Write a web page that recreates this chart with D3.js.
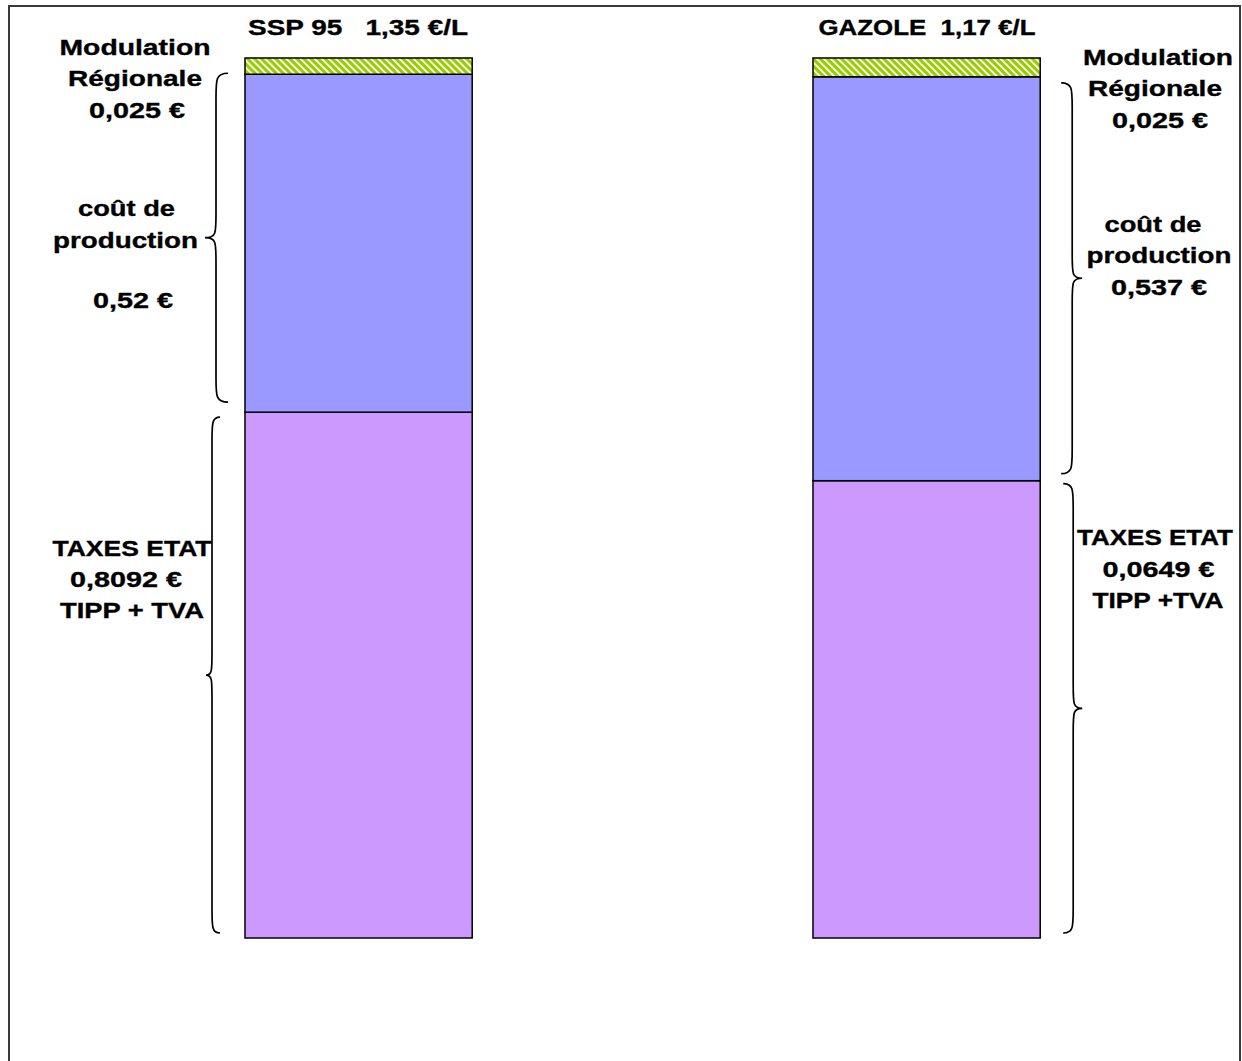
<!DOCTYPE html>
<html>
<head>
<meta charset="utf-8">
<script src="https://cdn.jsdelivr.net/npm/d3@7"></script>
<style>
  html, body { margin: 0; padding: 0; background: #fff; }
  svg { display: block; }
  text { font-family: "Liberation Sans", Arial, sans-serif; font-weight: bold; fill: #000; white-space: pre; stroke: #000; stroke-width: 0.35; }
</style>
</head>
<body>
<svg id="chart" width="1242" height="1061"></svg>
<script>
// ---- data ----
const categories = ["SSP 95", "GAZOLE"];
const titles = ["SSP 95   1,35 €/L", "GAZOLE  1,17 €/L"];
const seriesKeys = ["taxes", "production", "modulation"];
const taxes = [0.8092, 0.608];
const production = [0.52, 0.537];
const modulation = [0.025, 0.025];
const modulationLabel = [["Modulation", "Régionale", "0,025 €"], ["Modulation", "Régionale", "0,025 €"]];
const productionLabel = [["coût de", "production", "", "0,52 €"], ["coût de", "production", "0,537 €"]];
const taxesLabel = [["TAXES ETAT", "0,8092 €", "TIPP + TVA"], ["TAXES ETAT", "0,0649 €", "TIPP +TVA"]];

const rows = categories.map((c, i) => ({
  cat: c, taxes: taxes[i], production: production[i], modulation: modulation[i]
}));

// ---- layout ----
const svg = d3.select("#chart");
const x = d3.scaleBand().domain(categories).range([74.6, 1210.6]).paddingInner(0.6).paddingOuter(0.3);
const y = d3.scaleLinear().domain([0, 1]).range([938, 58]);
const stack = d3.stack().keys(seriesKeys).offset(d3.stackOffsetExpand);
const stacked = stack(rows);
const colors = { taxes: "#CC99FF", production: "#9999FF", modulation: "url(#hatch)" };

// hatch pattern
const defs = svg.append("defs");
const pat = defs.append("pattern").attr("id", "hatch").attr("patternUnits", "userSpaceOnUse")
  .attr("width", 5).attr("height", 5).attr("patternTransform", "rotate(-45)");
pat.append("rect").attr("width", 5).attr("height", 5).attr("fill", "#99CC00");
pat.append("rect").attr("x", 0).attr("y", 0).attr("width", 1.8).attr("height", 5).attr("fill", "#ffffff");

// outer frame
svg.append("rect").attr("x", 9).attr("y", 6).attr("width", 1231).attr("height", 1100)
  .attr("fill", "none").attr("stroke", "#3a3a3a").attr("stroke-width", 2);

// bars
svg.append("g").selectAll("g").data(stacked).join("g")
  .attr("fill", d => colors[d.key])
  .selectAll("rect").data(d => d).join("rect")
  .attr("x", d => x(d.data.cat))
  .attr("width", x.bandwidth())
  .attr("y", d => y(d[1]))
  .attr("height", d => y(d[0]) - y(d[1]))
  .attr("stroke", "#000").attr("stroke-width", 1.5);

// braces
function brace(x0, y0, y1, dir, spineOff, tipOff) {
  const xs = x0 + dir * spineOff, xt = x0 + dir * tipOff;
  const ym = (y0 + y1) / 2, r = 24;
  return `M${x0},${y0} C${xs},${y0} ${xs},${y0 + 6} ${xs},${y0 + r}`
    + ` L${xs},${ym - r} C${xs},${ym - 4} ${xs},${ym} ${xt},${ym}`
    + ` C${xs},${ym} ${xs},${ym + 4} ${xs},${ym + r}`
    + ` L${xs},${y1 - r} C${xs},${y1 - 6} ${xs},${y1} ${x0},${y1}`;
}
const bg = svg.append("g").attr("fill", "none").attr("stroke", "#000").attr("stroke-width", 1.7);
const b1 = x(categories[0]), b2 = x(categories[1]) + x.bandwidth();
const s1 = stacked.map(s => s[0]), s2 = stacked.map(s => s[1]);
bg.append("path").attr("d", brace(b1 - 17, y(s1[1][1]) - 1, y(s1[1][0]) - 10, -1, 12, 23));
bg.append("path").attr("d", brace(b1 - 25, y(s1[0][1]) + 5, y(s1[0][0]) - 5, -1, 8, 14));
bg.append("path").attr("d", brace(b2 + 21, y(s2[1][1]) + 6, y(s2[1][0]) - 7, 1, 11, 21));
bg.append("path").attr("d", brace(b2 + 23, y(s2[0][1]) + 3, y(s2[0][0]) - 5, 1, 10, 19));

// text labels: [cx, baseline, width] per line
function lines(group, texts, layout) {
  texts.forEach((t, i) => {
    if (!t) return;
    const L = layout[i];
    group.append("text").attr("x", L[0]).attr("y", L[1]).attr("text-anchor", "middle")
      .attr("font-size", 22).attr("textLength", L[2]).attr("lengthAdjust", "spacingAndGlyphs").text(t);
  });
}
const tg = svg.append("g");
lines(tg, [titles[0]], [[358, 35, 220]]);
lines(tg, [titles[1]], [[927, 35, 217]]);
lines(tg, modulationLabel[0], [[135, 55, 151], [135, 86, 134], [137, 118, 96]]);
lines(tg, productionLabel[0], [[126.5, 216, 97], [125.5, 248, 145], null, [133, 308, 80]]);
lines(tg, taxesLabel[0], [[132, 556, 159], [126, 587, 112], [132, 618, 144]]);
lines(tg, modulationLabel[1], [[1158, 65, 150], [1155, 96, 134], [1160, 128, 96]]);
lines(tg, productionLabel[1], [[1153, 232, 97], [1159, 263, 145], [1159, 295, 96]]);
lines(tg, taxesLabel[1], [[1155, 545, 156], [1158.5, 577, 112], [1158, 608, 131]]);
</script>
</body>
</html>
